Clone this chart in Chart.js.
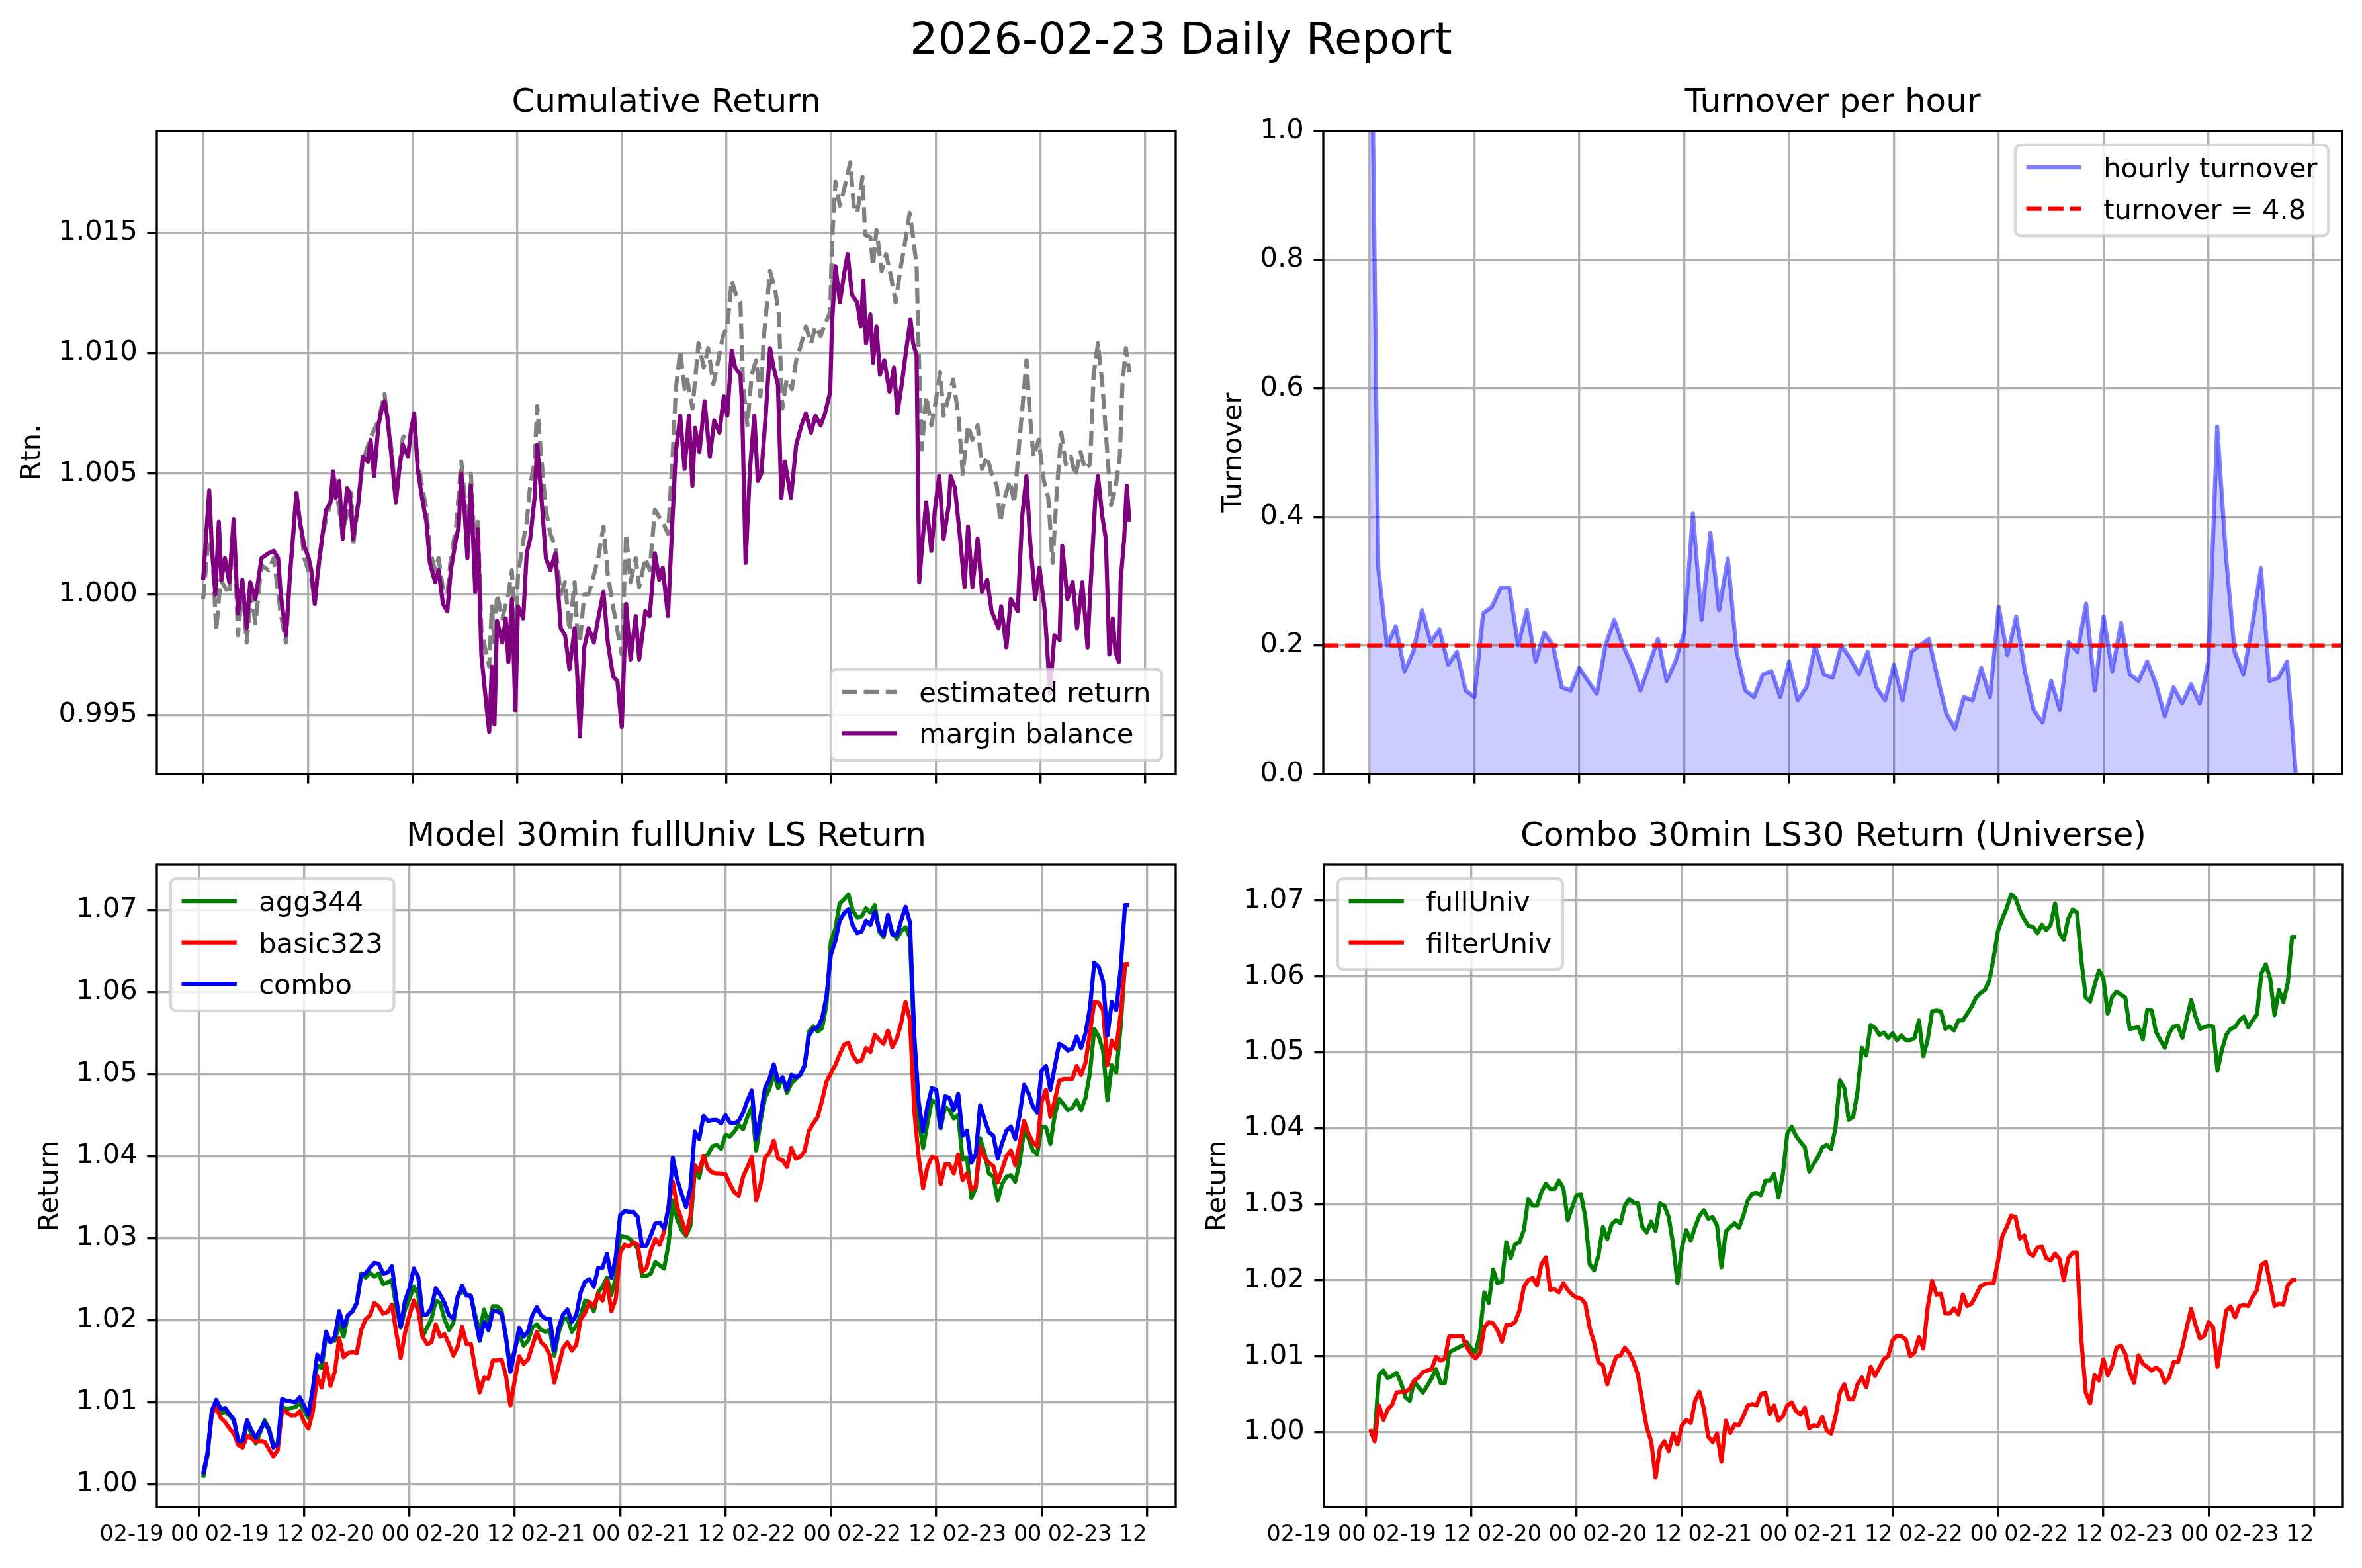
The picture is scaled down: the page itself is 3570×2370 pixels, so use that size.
<!DOCTYPE html>
<html>
<head>
<meta charset="utf-8">
<script src="https://cdn.jsdelivr.net/npm/chart.js@4.4.1/dist/chart.umd.min.js"></script>
<style>
html,body{margin:0;padding:0;background:#fff;}
body{width:3570px;height:2370px;position:relative;overflow:hidden;}
canvas{position:absolute;left:0;top:0;}
#sup{position:absolute;left:0;top:24.6px;width:3570px;text-align:center;font-family:'DejaVu Sans';font-size:66.67px;line-height:66.67px;white-space:nowrap;color:#000;}
</style>
</head>
<body>
<div id="sup">2026-02-23 Daily Report</div>
<canvas id="c1" width="3570" height="2370"></canvas>
<canvas id="c2" width="3570" height="2370"></canvas>
<canvas id="c3" width="3570" height="2370"></canvas>
<canvas id="c4" width="3570" height="2370"></canvas>
<script>
// ---------------- DATA ----------------
// x values are hours since 02-19 00:00
const xTicks = [0,12,24,36,48,60,72,84,96,108];
const xTickLabels = ['02-19 00','02-19 12','02-20 00','02-20 12','02-21 00','02-21 12','02-22 00','02-22 12','02-23 00','02-23 12'];

// Cumulative Return: margin balance
const tMargin = [0,0.3,0.7,1.0,1.4,1.8,2.1,2.5,3.0,3.5,
4.0,4.5,5.0,5.4,6.0,6.7,7.5,8.1,8.6,8.9,
9.5,10.0,10.4,10.7,11.1,11.6,12.1,12.4,12.8,13.2,
13.7,14.1,14.6,14.9,15.2,15.6,16.0,16.5,16.8,17.2,
17.8,18.3,18.9,19.2,19.6,20.1,20.5,20.8,21.1,21.6,
22.1,22.5,22.9,23.5,23.8,24.2,24.6,25.1,25.6,26.0,
26.6,27.0,27.5,28.0,28.4,29.0,29.3,29.6,30.0,30.3,
30.7,31.2,31.5,31.9,32.5,32.8,33.1,33.4,33.7,34.3,
34.7,35.0,35.4,35.8,36.1,36.7,37.1,37.5,38.0,38.3,
38.7,39.3,39.8,40.4,41.0,41.5,42.0,42.6,42.9,43.2,
43.7,44.2,44.8,45.3,45.9,46.4,47.0,47.5,48.0,48.5,
49.0,49.6,50.0,50.7,51.2,51.8,52.3,52.7,53.3,53.8,
54.2,54.7,55.2,
55.7,56.1,56.4,56.9,57.5,58.1,58.6,59.2,59.7,60.1,
60.6,61.0,61.6,61.8,62.2,62.7,63.2,63.6,64.0,64.5,
65.0,65.4,65.9,66.3,66.7,67.4,68.0,68.6,69.1,69.7,
70.2,70.8,71.3,71.9,72.1,72.5,73.0,73.5,73.9,74.4,
75.0,75.4,75.7,76.0,76.5,76.8,77.2,77.6,78.1,78.7,
79.2,79.6,80.1,80.6,81.1,81.4,81.8,82.1,82.5,82.9,
83.5,83.9,84.4,84.9,85.5,85.7,86.2,86.8,87.3,87.7,
88.2,88.8,89.3,89.9,90.4,91.2,91.5,92.1,92.6,93.4,
93.9,94.4,94.8,95.4,95.9,96.5,97.1,97.6,98.2,98.5,
99.1,99.7,100.2,100.8,101.4,101.7,102.3,102.6,103.1,103.5,
103.9,104.3,104.6,105.0,105.2,105.6,105.9,106.2];
const marginBalance = [1.0006,1.0022,1.0043,1.002,1.000,1.003,1.0006,1.0015,1.0005,1.0031,
0.9992,1.0006,0.9986,1.0005,0.9998,1.0015,1.0017,1.0018,1.0015,1.000,
0.9983,1.001,1.0028,1.0042,1.003,1.002,1.0015,1.001,0.9996,1.0011,
1.0025,1.0035,1.0038,1.0051,1.004,1.0047,1.0023,1.0044,1.0042,1.0023,
1.0038,1.0057,1.0055,1.0064,1.0049,1.007,1.0077,1.008,1.0074,1.0057,
1.0038,1.0052,1.0062,1.0057,1.0067,1.0075,1.0052,1.004,1.003,1.0013,
1.0005,1.001,0.9996,0.9993,1.001,1.0023,1.0028,1.005,1.0033,1.0015,
1.0045,1.0001,1.0027,0.9975,0.9953,0.9943,0.997,0.9946,0.9989,0.998,
0.999,0.9972,0.9998,0.9952,0.9995,0.999,1.0017,1.0023,1.004,1.0062,
1.0044,1.0015,1.001,1.0017,0.9986,0.9983,0.9969,0.9986,0.9966,0.9941,
0.9978,0.9986,0.998,0.999,1.0001,0.998,0.9966,0.9964,0.9945,0.9996,
0.9973,0.9991,0.9973,0.9993,0.9991,1.0017,1.0006,1.0011,0.9991,1.003,
1.0059,1.0074,1.0052,
1.0074,1.0045,1.0069,1.0059,1.008,1.0057,1.0072,1.0067,1.0082,1.0074,
1.0101,1.0094,1.0091,1.0077,1.0013,1.0052,1.0074,1.0047,1.005,1.0074,
1.0102,1.0094,1.0087,1.004,1.0055,1.004,1.0062,1.007,1.0075,1.0067,
1.0074,1.007,1.0075,1.0084,1.0112,1.0136,1.0121,1.0133,1.0141,1.0124,
1.0121,1.0111,1.013,1.0104,1.0116,1.0096,1.0111,1.0091,1.0097,1.0084,
1.0094,1.0075,1.0087,1.0101,1.0114,1.0104,1.0099,1.0005,1.0023,1.0038,
1.0018,1.0035,1.0049,1.0023,1.0037,1.0049,1.0044,1.0023,1.0003,1.0028,
1.0003,1.0023,1.0001,1.0006,0.9993,0.9986,0.9995,0.9978,0.9998,0.9993,
1.0032,1.0049,1.0023,0.9998,1.0011,0.9993,0.9959,0.9983,0.9981,1.002,
0.9998,1.0005,0.9986,1.0005,0.9978,1.0,1.004,1.0049,1.0032,1.0023,
0.9975,0.999,0.9976,0.9972,1.0006,1.0023,1.0045,1.003];

// Cumulative Return: estimated return
const tEst = [0,0.5,1.0,1.5,2.0,3.0,3.5,4.0,4.5,5.0,
5.5,6.0,6.7,7.5,8.1,8.9,9.5,10.0,10.7,11.6,
12.4,12.8,13.7,14.6,15.0,16.0,17.0,17.2,18.3,19.2,
20.1,20.8,21.6,22.1,22.9,23.8,24.2,24.6,25.6,26.0,
26.6,27.0,27.5,28.0,28.4,29.0,29.6,30.0,30.3,30.7,
31.2,31.5,31.9,32.5,32.8,33.1,33.4,33.7,34.3,35.0,
35.4,35.8,36.1,36.7,37.1,37.5,38.0,38.3,38.7,39.3,
39.8,40.4,41.0,41.5,42.0,42.6,42.9,43.2,43.7,44.2,
44.8,45.3,45.9,46.4,47.0,47.5,48.0,48.5,49.0,49.6,
50.0,50.7,51.2,51.8,52.3,52.7,53.3,53.8,54.2,54.7,
55.2,
55.5,56.1,56.8,57.4,57.9,58.5,59.0,59.6,60.1,60.6,
61.1,61.6,61.9,62.4,62.9,63.4,63.9,64.3,65.0,65.6,
66.0,66.4,66.9,67.5,68.0,68.6,69.1,69.7,70.2,70.8,
71.3,71.9,72.1,72.5,73.0,73.5,74.2,74.6,75.0,75.6,
75.9,76.5,76.8,77.2,77.8,78.3,78.9,79.4,80.0,80.4,
81.0,81.4,81.8,82.0,82.4,82.9,83.5,84.0,84.5,84.9,
85.5,86.0,86.6,87.1,87.7,88.2,88.8,89.3,89.9,90.4,
91.0,91.4,91.9,92.5,93.0,93.6,94.1,94.4,94.8,95.2,
95.8,96.4,96.9,97.4,97.9,98.4,98.9,99.5,100.0,100.6,
101.1,101.7,102.1,102.6,103.1,103.7,104.1,104.6,105.1,105.4,
105.8,106.2];
const estimatedReturn = [0.9998,1.0018,1.0022,0.9985,1.0006,1.000,1.003,0.9983,1.0003,0.998,
1.0,0.9988,1.0012,1.001,1.0015,0.9992,0.998,1.001,1.0042,1.0015,
1.0006,0.9998,1.0025,1.0038,1.005,1.0025,1.0042,1.002,1.0055,1.0065,
1.0072,1.0083,1.006,1.004,1.0065,1.0068,1.0073,1.0055,1.0035,1.0018,
1.001,1.0015,1.0002,1.0,1.0015,1.0028,1.0055,1.004,1.0025,1.005,
1.0015,1.003,0.9985,0.9975,0.997,0.9995,0.998,1.0,0.999,1.0,
1.001,0.998,1.0008,1.0022,1.003,1.0045,1.0055,1.0078,1.006,1.0035,
1.0025,1.002,1.0,1.0005,0.9985,1.0005,0.9985,0.998,1.0,1.0,
1.0008,1.0015,1.0028,1.0008,0.9995,0.9985,0.9975,1.0025,1.0005,1.0015,
1.0003,1.0015,1.001,1.0035,1.0032,1.003,1.0025,1.0055,1.0085,1.0101,
1.0085,
1.0089,1.0077,1.0104,1.0094,1.0102,1.0087,1.0096,1.0107,1.0111,1.013,
1.0124,1.0121,1.0087,1.007,1.0091,1.0097,1.0082,1.0107,1.0134,1.0126,
1.0116,1.0077,1.0089,1.0085,1.0097,1.0104,1.0111,1.0104,1.0111,1.0107,
1.0112,1.0117,1.0146,1.0171,1.0161,1.0168,1.0179,1.0161,1.0158,1.0173,
1.0149,1.0148,1.0136,1.0151,1.0134,1.0141,1.0131,1.0121,1.0136,1.0144,
1.0158,1.0148,1.0136,1.0106,1.006,1.0082,1.007,1.008,1.0092,1.0074,
1.0082,1.0089,1.0074,1.005,1.007,1.0064,1.007,1.0052,1.0057,1.005,
1.0045,1.003,1.004,1.0047,1.0038,1.0064,1.0084,1.0097,1.0074,1.0057,
1.0064,1.0047,1.004,1.0013,1.0044,1.0067,1.0054,1.0057,1.0049,1.0059,
1.0052,1.0054,1.0091,1.0104,1.0087,1.0057,1.0037,1.0044,1.0057,1.0087,
1.0102,1.0092];

// Turnover per hour
const tHour = [0,1,2,3,4,5,6,7,8,9,10,11,12,13,14,15,16,17,18,19,
20,21,22,23,24,25,26,27,28,29,30,31,32,33,34,35,36,37,38,39,
40,41,42,43,44,45,46,47,48,49,50,51,52,53,54,55,56,57,58,59,
60,61,62,63,64,65,66,67,68,69,70,71,72,73,74,75,76,77,78,79,
80,81,82,83,84,85,86,87,88,89,90,91,92,93,94,95,96,97,98,99,
100,101,102,103,104,105,106];
const hourlyTurnover = [1.45,0.32,0.20,0.23,0.16,0.19,0.255,0.205,0.225,0.17,
0.19,0.13,0.12,0.25,0.26,0.29,0.29,0.20,0.255,0.175,
0.22,0.20,0.135,0.13,0.165,0.145,0.125,0.20,0.24,0.20,
0.17,0.13,0.17,0.21,0.145,0.175,0.22,0.405,0.24,0.375,
0.255,0.335,0.19,0.13,0.12,0.155,0.16,0.12,0.175,0.115,
0.135,0.20,0.155,0.15,0.20,0.18,0.155,0.19,0.135,0.115,
0.17,0.115,0.19,0.20,0.21,0.15,0.095,0.07,0.12,0.115,
0.165,0.12,0.26,0.185,0.245,0.16,0.10,0.08,0.145,0.10,
0.205,0.19,0.265,0.13,0.245,0.16,0.235,0.155,0.145,0.175,
0.14,0.09,0.135,0.11,0.14,0.11,0.175,0.54,0.34,0.19,
0.155,0.23,0.32,0.145,0.15,0.175,0.0];
const turnoverDaily = 4.8;
const hoursPerDay = 24;

// 30-minute returns
const t30 = [0.5,1,1.5,2,2.5,3,3.5,4,4.5,5,5.5,6,6.5,7,7.5,8,8.5,9,9.5,10,
10.5,11,11.5,12,12.5,13,13.5,14,14.5,15,15.5,16,16.5,17,17.5,18,18.5,19,19.5,20,
20.5,21,21.5,22,22.5,23,23.5,24,24.5,25,25.5,26,26.5,27,27.5,28,28.5,29,29.5,30,
30.5,31,31.5,32,32.5,33,33.5,34,34.5,35,35.5,36,36.5,37,37.5,38,38.5,39,39.5,40,
40.5,41,41.5,42,42.5,43,43.5,44,44.5,45,45.5,46,46.5,47,47.5,48,48.5,49,49.5,50,
50.5,51,51.5,52,52.5,53,53.5,54,54.5,55,55.5,56,56.5,57,57.5,58,58.5,59,59.5,60,
60.5,61,61.5,62,62.5,63,63.5,64,64.5,65,65.5,66,66.5,67,67.5,68,68.5,69,69.5,70,
70.5,71,71.5,72,72.5,73,73.5,74,74.5,75,75.5,76,76.5,77,77.5,78,78.5,79,79.5,80,
80.5,81,81.5,82,82.5,83,83.5,84,84.5,85,85.5,86,86.5,87,87.5,88,88.5,89,89.5,90,
90.5,91,91.5,92,92.5,93,93.5,94,94.5,95,95.5,96,96.5,97,97.5,98,98.5,99,99.5,100,
100.5,101,101.5,102,102.5,103,103.5,104,104.5,105,105.5,106];

const agg344 = [1.0008,1.0035,1.0089,1.0098,1.0086,1.0089,1.0084,1.0078,1.0053,1.005,
1.0076,1.0061,1.005,1.0063,1.0078,1.0068,1.0049,1.0049,1.0094,1.0092,
1.0093,1.0094,1.0099,1.009,1.0081,1.0114,1.0145,1.0142,1.018,1.0175,
1.0175,1.0196,1.018,1.0206,1.0211,1.0221,1.0257,1.0252,1.0258,1.0253,
1.0257,1.0244,1.0246,1.0249,1.0216,1.0191,1.0213,1.0226,1.0241,1.0231,
1.018,1.0191,1.0201,1.0224,1.0221,1.0201,1.0188,1.0197,1.0229,1.0236,
1.0231,1.0229,1.0206,1.0185,1.0213,1.0196,1.0217,1.0217,1.0212,1.018,
1.0142,1.0165,1.0183,1.0169,1.0175,1.0191,1.0195,1.0188,1.0186,1.0188,
1.0157,1.0185,1.0201,1.0203,1.0186,1.0193,1.0206,1.0224,1.0222,1.0211,
1.0234,1.0241,1.0252,1.0231,1.0252,1.0303,1.0302,1.03,1.0295,1.0287,
1.0254,1.0254,1.0257,1.0271,1.0267,1.0263,1.0292,1.0346,1.0323,1.031,
1.0303,
1.0315,1.0382,1.0374,1.0399,1.0402,1.0412,1.0414,1.0409,1.0426,1.0424,
1.043,1.0438,1.0433,1.0448,1.046,1.0407,1.0443,1.0471,1.0482,1.0501,
1.0483,1.0496,1.0477,1.0489,1.0494,1.0499,1.0509,1.0552,1.0558,1.0552,
1.0556,1.0585,1.0662,1.0677,1.0708,1.0713,1.0719,1.0699,1.0691,1.0692,
1.0702,1.0697,1.0706,1.0674,1.0667,1.069,1.0673,1.0665,1.0674,1.0679,
1.0667,1.0532,1.0445,1.041,1.044,1.0468,1.0465,1.0434,1.046,1.0456,
1.0446,1.045,1.0396,1.0398,1.0349,1.0361,1.0422,1.0404,1.0379,1.0375,
1.0346,1.0366,1.0375,1.0377,1.0369,1.0392,1.0431,1.0422,1.0407,1.0402,
1.0436,1.0435,1.0415,1.045,1.047,1.0463,1.0456,1.0459,1.0468,1.0456,
1.0471,1.0501,1.0555,1.0546,1.0529,1.0468,1.0511,1.0502,1.0557,1.0634,
1.0634];

const basic323 = [1.0012,1.0038,1.0086,1.0094,1.0081,1.0076,1.0068,1.0062,1.0048,1.0045,
1.0059,1.0056,1.0052,1.0053,1.0052,1.0043,1.0034,1.0042,1.0091,1.0088,
1.0084,1.0084,1.0089,1.0076,1.0068,1.0089,1.0132,1.0118,1.0147,1.012,
1.0137,1.0178,1.0155,1.016,1.0161,1.016,1.0188,1.0201,1.0206,1.0221,
1.0217,1.0208,1.021,1.0219,1.0185,1.0154,1.0185,1.0206,1.0224,1.0212,
1.018,1.0171,1.0173,1.0195,1.018,1.0183,1.0171,1.0157,1.0168,1.0192,
1.0171,1.0171,1.014,1.0112,1.013,1.0129,1.0151,1.0151,1.0152,1.0132,
1.0096,1.0127,1.0156,1.0147,1.0152,1.0169,1.0186,1.0173,1.0168,1.0157,
1.0124,1.0145,1.0166,1.0173,1.0163,1.017,1.0201,1.0209,1.0222,1.0217,
1.0232,1.0224,1.0248,1.0211,1.0226,1.0282,1.0292,1.029,1.0295,1.0292,
1.0259,1.0264,1.0285,1.0299,1.0292,1.0308,1.0338,1.0369,1.0338,1.0323,
1.0305,
1.0326,1.0389,1.0382,1.04,1.0385,1.038,1.0379,1.0379,1.0378,1.0366,
1.0356,1.0352,1.0375,1.0387,1.0399,1.0346,1.0366,1.0398,1.0404,1.0419,
1.0397,1.0395,1.0387,1.041,1.0397,1.0399,1.0406,1.0431,1.044,1.0448,
1.0468,1.0491,1.0501,1.0511,1.0524,1.0536,1.0538,1.0523,1.0515,1.0517,
1.0532,1.0527,1.0548,1.0542,1.0537,1.0553,1.0533,1.0543,1.0562,1.0588,
1.0566,1.0455,1.0399,1.0361,1.0387,1.0399,1.0398,1.0366,1.039,1.039,
1.0379,1.0402,1.0371,1.0379,1.0359,1.0364,1.0411,1.0398,1.0392,1.0388,
1.0368,1.0384,1.04,1.0407,1.0389,1.0415,1.0443,1.0428,1.0417,1.0412,
1.0466,1.0481,1.0448,1.0468,1.0492,1.0494,1.0494,1.0494,1.051,1.0499,
1.0514,1.055,1.0588,1.0587,1.0578,1.0511,1.0541,1.0531,1.0573,1.0634,
1.0634];

const combo = [1.0012,1.0038,1.009,1.0103,1.0092,1.0093,1.0086,1.0079,1.0053,1.0053,
1.0078,1.0066,1.0057,1.0066,1.0076,1.0066,1.0045,1.0049,1.0104,1.0102,
1.0101,1.01,1.0106,1.0096,1.0085,1.0117,1.0158,1.015,1.0186,1.0173,
1.018,1.0211,1.0192,1.0206,1.0211,1.0221,1.0255,1.0257,1.0264,1.027,
1.0269,1.0257,1.0258,1.0266,1.0226,1.0192,1.0224,1.0239,1.0263,1.0253,
1.0207,1.0207,1.0215,1.0239,1.0231,1.0221,1.0206,1.0202,1.0229,1.0242,
1.023,1.023,1.0201,1.0175,1.0198,1.0188,1.0211,1.0211,1.0208,1.0178,
1.0137,1.0163,1.0191,1.018,1.0186,1.0206,1.0216,1.0206,1.0202,1.0202,
1.0163,1.0191,1.0207,1.0213,1.0198,1.0206,1.0234,1.0247,1.025,1.0241,
1.0264,1.0264,1.0281,1.0252,1.0277,1.0328,1.0333,1.0332,1.0332,1.0326,
1.029,1.0291,1.0304,1.0318,1.0319,1.0312,1.0336,1.0398,1.0371,1.0354,
1.0338,
1.0361,1.043,1.0421,1.0449,1.0443,1.0444,1.0444,1.044,1.045,1.0441,
1.044,1.0443,1.0453,1.0468,1.048,1.0421,1.045,1.0483,1.0494,1.0512,
1.0491,1.0496,1.0481,1.0499,1.0496,1.0499,1.0511,1.0547,1.0555,1.0557,
1.0568,1.0595,1.0646,1.0662,1.0687,1.0696,1.0701,1.0681,1.0672,1.0674,
1.0687,1.0682,1.0698,1.0677,1.0669,1.0694,1.067,1.0669,1.0687,1.0704,
1.0685,1.0547,1.0466,1.043,1.0461,1.0483,1.0481,1.0435,1.0473,1.0471,
1.0456,1.0476,1.0425,1.0431,1.0392,1.0402,1.0462,1.0445,1.0429,1.0425,
1.0397,1.0416,1.0431,1.0436,1.0421,1.045,1.0487,1.0477,1.0461,1.0453,
1.0504,1.051,1.0481,1.0509,1.0537,1.0534,1.0529,1.0531,1.0546,1.0532,
1.055,1.058,1.0636,1.0631,1.0613,1.0547,1.0588,1.0578,1.0628,1.0706,
1.0706];

const fullUniv = [0.9998,0.9995,1.0075,1.0081,1.0071,1.0074,1.0078,1.0065,1.0046,1.0041,
1.0067,1.0059,1.0052,1.0061,1.0071,1.0083,1.0065,1.0065,1.0105,1.0108,
1.0111,1.0114,1.0118,1.011,1.0105,1.0129,1.0184,1.017,1.0214,1.0196,
1.0198,1.025,1.0229,1.0247,1.025,1.0266,1.0307,1.0298,1.0298,1.0316,
1.0327,1.032,1.032,1.0331,1.0321,1.0279,1.0296,1.0312,1.0313,1.0283,
1.0221,1.0213,1.0233,1.027,1.0254,1.0274,1.0279,1.0275,1.0298,1.0307,
1.0302,1.0301,1.027,1.0263,1.0277,1.0265,1.0301,1.0298,1.0283,1.0247,
1.0196,1.0243,1.0266,1.0252,1.027,1.0285,1.0292,1.0281,1.0283,1.0272,
1.0217,1.0264,1.027,1.0275,1.0269,1.0285,1.0305,1.0314,1.0315,1.0312,
1.0331,1.0331,1.034,1.0309,1.034,1.0393,1.0402,1.039,1.0382,1.0375,
1.0343,1.0353,1.0362,1.0375,1.0378,1.0373,1.0401,1.0463,1.0453,1.0411,
1.0415,1.0448,1.0506,1.0496,1.0536,1.0532,1.0523,1.0526,1.0519,1.0525,
1.0516,1.0522,1.0516,1.0516,1.0519,1.0542,1.0495,1.0517,1.0554,1.0555,
1.0554,1.0531,1.0534,1.0529,1.0542,1.0542,1.0551,1.056,1.0572,1.0578,
1.0582,1.0594,1.0624,1.066,1.0676,1.069,1.0708,1.0703,1.0686,1.0675,
1.0666,1.0665,1.0657,1.0668,1.0661,1.0668,1.0696,1.0657,1.0648,1.0676,
1.0688,1.0684,1.0621,1.0572,1.0567,1.0588,1.0608,1.0598,1.0551,1.0573,
1.058,1.0576,1.0572,1.0531,1.0532,1.0533,1.0517,1.0556,1.0555,1.0527,
1.0516,1.0506,1.0525,1.0534,1.0535,1.0519,1.0544,1.0569,1.0547,1.0531,
1.0533,1.0535,1.0534,1.0476,1.0503,1.0523,1.0531,1.0533,1.0542,1.0547,
1.0533,1.0542,1.055,1.0604,1.0616,1.0597,1.0549,1.0582,1.0566,1.0591,
1.0652,1.0652];

const filterUniv = [1.0004,0.9988,1.0035,1.0016,1.003,1.0036,1.0052,1.0053,1.0053,1.0057,
1.0068,1.0072,1.0079,1.0081,1.0083,1.0099,1.0094,1.0097,1.0126,1.0126,
1.0126,1.0126,1.0112,1.0103,1.0097,1.0104,1.0138,1.0145,1.0143,1.0134,
1.0119,1.0141,1.0141,1.0145,1.016,1.0191,1.02,1.0203,1.0193,1.0221,
1.023,1.0187,1.0188,1.0184,1.0196,1.0187,1.0181,1.0177,1.0176,1.0169,
1.0137,1.0118,1.0092,1.0088,1.0063,1.0082,1.0099,1.0101,1.0111,1.0104,
1.0092,1.0075,1.0039,1.0006,0.9988,0.994,0.9979,0.9988,0.9975,0.9998,
0.9984,1.0009,1.0016,1.0012,1.0041,1.0053,1.0031,0.9994,0.9987,0.9998,
0.9961,1.0015,0.9999,1.001,1.0009,1.0021,1.0035,1.0037,1.0035,1.005,
1.0052,1.0024,1.0035,1.0015,1.0021,1.0035,1.0039,1.0028,1.0023,1.0032,
1.0005,1.0009,1.0008,1.002,1.0002,0.9998,1.0021,1.0052,1.0063,1.0043,
1.0043,1.0063,1.0072,1.0059,1.0086,1.0074,1.0085,1.0096,1.01,1.0121,
1.0127,1.0126,1.0122,1.01,1.0105,1.0125,1.011,1.0165,1.0199,1.0181,
1.0182,1.0156,1.0156,1.0163,1.0155,1.0181,1.0166,1.0169,1.018,1.0192,
1.0195,1.0196,1.0196,1.0225,1.0258,1.027,1.0285,1.0283,1.0255,1.0259,
1.0236,1.0232,1.0243,1.0244,1.0229,1.0226,1.0235,1.0228,1.02,1.0229,
1.0236,1.0236,1.0121,1.0052,1.0038,1.0075,1.0068,1.0096,1.0075,1.0088,
1.0111,1.0114,1.0103,1.0079,1.0065,1.0101,1.009,1.0086,1.0081,1.0085,
1.0081,1.0065,1.0072,1.0092,1.0092,1.0112,1.0138,1.0162,1.0141,1.0123,
1.0127,1.0145,1.0138,1.0086,1.0123,1.016,1.0165,1.0151,1.0166,1.0167,
1.0166,1.0178,1.0187,1.022,1.0224,1.0195,1.0166,1.0169,1.0168,1.0193,
1.02,1.02];

const yTicksCum = [0.995,1.000,1.005,1.010,1.015];
const yTicksTurn = [0.0,0.2,0.4,0.6,0.8,1.0];
const yTicksRet = [1.00,1.01,1.02,1.03,1.04,1.05,1.06,1.07];

// ---------------- STYLE / LAYOUT ----------------
const PT = 300/72;
const FS8 = 8*PT, FS10 = 10*PT, FS12 = 12*PT;
const LW = 1.5*PT, THIN = 0.8*PT, TICKLEN = 3.5*PT;
const MID2BASE = 0.346; // canvas 'middle' -> alphabetic baseline (em)
const DASH = [3.7*LW, 1.6*LW];

Chart.defaults.font.family = "'DejaVu Sans'";
Chart.defaults.color = '#000';

const pts = (xs, ys) => xs.map((x, i) => ({x: x, y: ys[i]}));

const spinePlugin = {
  id: 'spines',
  afterDatasetsDraw(chart) {
    const {ctx, chartArea: a} = chart;
    ctx.save();
    ctx.strokeStyle = '#000';
    ctx.lineWidth = THIN;
    ctx.strokeRect(a.left, a.top, a.right - a.left, a.bottom - a.top);
    ctx.restore();
  }
};

const legendPlugin = {
  id: 'mplLegend',
  afterDraw(chart, args, opts) {
    if (!opts || !opts.items) return;
    const ctx = chart.ctx, a = chart.chartArea;
    const fs = FS10, bp = 0.4*fs, ls = 0.5*fs, hl = 2.0*fs, htp = 0.8*fs, bap = 0.5*fs, rowH = fs;
    const ds = opts.items.map(i => chart.data.datasets[i]);
    ctx.save();
    ctx.font = fs + "px 'DejaVu Sans'";
    const tw = Math.max(...ds.map(d => ctx.measureText(d.label).width));
    const w = 2*bp + hl + htp + tw;
    const h = 2*bp + ds.length*rowH + (ds.length - 1)*ls;
    const x = opts.loc.indexOf('right') >= 0 ? a.right - bap - w : a.left + bap;
    const y = opts.loc.indexOf('upper') >= 0 ? a.top + bap : a.bottom - bap - h;
    const r = 0.2*fs;
    ctx.beginPath();
    ctx.moveTo(x + r, y);
    ctx.lineTo(x + w - r, y); ctx.arcTo(x + w, y, x + w, y + r, r);
    ctx.lineTo(x + w, y + h - r); ctx.arcTo(x + w, y + h, x + w - r, y + h, r);
    ctx.lineTo(x + r, y + h); ctx.arcTo(x, y + h, x, y + h - r, r);
    ctx.lineTo(x, y + r); ctx.arcTo(x, y, x + r, y, r);
    ctx.closePath();
    ctx.fillStyle = 'rgba(255,255,255,0.8)';
    ctx.fill();
    ctx.lineWidth = 1.0*PT;
    ctx.strokeStyle = 'rgba(204,204,204,0.8)';
    ctx.stroke();
    ds.forEach((d, k) => {
      const rowTop = y + bp + k*(rowH + ls);
      const base = rowTop + 0.78*fs;
      const ly = base - 0.36*fs;
      ctx.beginPath();
      ctx.setLineDash(d.borderDash || []);
      ctx.lineWidth = d.borderWidth;
      ctx.strokeStyle = d.borderColor;
      ctx.lineCap = 'butt';
      ctx.moveTo(x + bp, ly);
      ctx.lineTo(x + bp + hl, ly);
      ctx.stroke();
      ctx.setLineDash([]);
      ctx.fillStyle = '#000';
      ctx.textAlign = 'left';
      ctx.textBaseline = 'alphabetic';
      ctx.fillText(d.label, x + bp + hl + htp, base);
    });
    ctx.restore();
  }
};

function gridOpts() {
  return {color: '#b0b0b0', lineWidth: THIN, drawTicks: true, tickLength: TICKLEN, tickColor: '#000', tickWidth: THIN};
}

function buildChart(id, o) {
  const W = 3570, H = 2370, a = o.area;
  const titleLH = FS12*1.2;
  const titleMid = a.top - 6*PT - MID2BASE*FS12;
  const padTop = titleMid - titleLH/2;
  const titlePadBottom = a.top - padTop - titleLH;
  const yW = a.left - o.boxLeft;
  const xH = o.xLabels ? 80 : 40;
  const padBottom = H - a.bottom - xH;
  const padRight = W - a.right;
  const yTitlePad = o.yTitleX - o.boxLeft - FS10*1.2/2;
  return new Chart(document.getElementById(id), {
    type: 'line',
    data: {datasets: o.datasets},
    options: {
      responsive: false, animation: false, events: [],
      layout: {padding: {left: o.boxLeft, right: padRight, top: padTop, bottom: padBottom}},
      elements: {point: {radius: 0}, line: {tension: 0}},
      plugins: {
        legend: {display: false},
        tooltip: {enabled: false},
        title: {display: true, text: o.title, fullSize: false, color: '#000',
                font: {size: FS12, weight: 'normal', lineHeight: 1.2},
                padding: {top: 0, bottom: titlePadBottom}},
        mplLegend: {loc: o.legendLoc, items: o.legendItems}
      },
      scales: {
        x: {
          type: 'linear', position: 'bottom', min: o.xRange[0], max: o.xRange[1], bounds: 'data',
          afterBuildTicks: s => { s.ticks = xTicks.map(v => ({value: v})); },
          afterFit: s => { s.height = xH; s.paddingLeft = 0; s.paddingRight = 0; s.paddingTop = 0; s.paddingBottom = 0; },
          ticks: {display: o.xLabels, autoSkip: false, maxRotation: 0, minRotation: 0, padding: 8, color: '#000',
                  align: 'end',
                  font: {size: FS8, lineHeight: 1.2},
                  callback: v => xTickLabels[xTicks.indexOf(v)]},
          grid: gridOpts(),
          border: {display: false}
        },
        y: {
          type: 'linear', position: 'left', min: o.yRange[0], max: o.yRange[1], bounds: 'data',
          afterBuildTicks: s => { s.ticks = o.yTicks.map(v => ({value: v})); },
          afterFit: s => { s.width = yW; s.paddingTop = 0; s.paddingBottom = 0; },
          ticks: {padding: TICKLEN, color: '#000', font: {size: FS10, lineHeight: 1.2},
                  callback: v => Number(v).toFixed(o.yDec)},
          grid: gridOpts(),
          border: {display: false},
          title: {display: true, text: o.yTitle, color: '#000', font: {size: FS10, lineHeight: 1.2},
                  padding: {top: yTitlePad, bottom: 0}}
        }
      }
    },
    plugins: [spinePlugin, legendPlugin]
  });
}

function lineDs(label, xs, ys, color, order, dashed) {
  return {label: label, data: pts(xs, ys), borderColor: color, backgroundColor: color,
          borderWidth: LW, borderDash: dashed ? DASH : [], borderJoinStyle: 'round',
          pointRadius: 0, fill: false, order: order};
}

// Top-left: Cumulative Return
buildChart('c1', {
  area: {left: 237, top: 198, right: 1777, bottom: 1170}, boxLeft: 0, yTitleX: 49,
  title: 'Cumulative Return', yTitle: 'Rtn.',
  xRange: [-5.31, 111.51], yRange: [0.99255, 1.0192], yTicks: yTicksCum, yDec: 3, xLabels: false,
  datasets: [
    lineDs('estimated return', tEst, estimatedReturn, '#808080', 1, true),
    lineDs('margin balance', tMargin, marginBalance, '#800080', 0, false)
  ],
  legendLoc: 'lower right', legendItems: [0, 1]
});

// Top-right: Turnover per hour
const xRangeTurn = [-5.3, 111.3];
const turnoverLevel = turnoverDaily / hoursPerDay;
buildChart('c2', {
  area: {left: 2000, top: 198, right: 3540, bottom: 1170}, boxLeft: 1800, yTitleX: 1865,
  title: 'Turnover per hour', yTitle: 'Turnover',
  xRange: xRangeTurn, yRange: [0, 1], yTicks: yTicksTurn, yDec: 1, xLabels: false,
  datasets: [
    {label: 'hourly turnover', data: pts(tHour, hourlyTurnover), borderColor: 'rgba(0,0,255,0.5)',
     backgroundColor: 'rgba(0,0,255,0.2)', borderWidth: LW, borderJoinStyle: 'round', pointRadius: 0,
     fill: 'origin', order: 1},
    {label: 'turnover = ' + turnoverDaily, data: pts(xRangeTurn, [turnoverLevel, turnoverLevel]),
     borderColor: '#ff0000', backgroundColor: '#ff0000', borderWidth: LW, borderDash: DASH,
     pointRadius: 0, fill: false, order: 0}
  ],
  legendLoc: 'upper right', legendItems: [0, 1]
});

// Bottom-left: Model 30min fullUniv LS Return
buildChart('c3', {
  area: {left: 237, top: 1307, right: 1777, bottom: 2278}, boxLeft: 0, yTitleX: 76,
  title: 'Model 30min fullUniv LS Return', yTitle: 'Return',
  xRange: [-4.775, 111.275], yRange: [0.99722, 1.07553], yTicks: yTicksRet, yDec: 2, xLabels: true,
  datasets: [
    lineDs('agg344', t30, agg344, '#008000', 2, false),
    lineDs('basic323', t30, basic323, '#ff0000', 1, false),
    lineDs('combo', t30, combo, '#0000ff', 0, false)
  ],
  legendLoc: 'upper left', legendItems: [0, 1, 2]
});

// Bottom-right: Combo 30min LS30 Return (Universe)
buildChart('c4', {
  area: {left: 2001, top: 1307, right: 3541, bottom: 2278}, boxLeft: 1800, yTitleX: 1841,
  title: 'Combo 30min LS30 Return (Universe)', yTitle: 'Return',
  xRange: [-4.775, 111.275], yRange: [0.99012, 1.0747], yTicks: yTicksRet, yDec: 2, xLabels: true,
  datasets: [
    lineDs('fullUniv', t30, fullUniv, '#008000', 1, false),
    lineDs('filterUniv', t30, filterUniv, '#ff0000', 0, false)
  ],
  legendLoc: 'upper left', legendItems: [0, 1]
});
</script>
</body>
</html>
